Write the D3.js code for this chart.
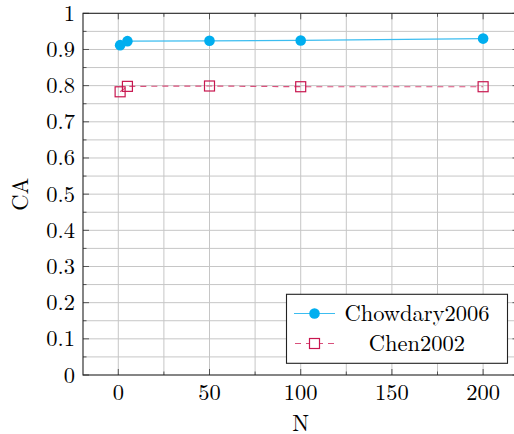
<!DOCTYPE html>
<html>
<head>
<meta charset="utf-8">
<script src="https://cdn.jsdelivr.net/npm/d3@7"></script>
<style>
  body { margin: 0; background: #fff; }
  svg text { font-family: "Latin Modern Roman", "CMU Serif", "DejaVu Serif", serif; fill: #000; }
</style>
</head>
<body>
<div id="chart"></div>
<script>
// data
var nValues = [1, 5, 50, 100, 200];
var chowdary = [0.912, 0.923, 0.924, 0.925, 0.930];
var chen = [0.783, 0.798, 0.799, 0.797, 0.797];
var xTicks = [0, 50, 100, 150, 200];
var yTicks = [0, 0.1, 0.2, 0.3, 0.4, 0.5, 0.6, 0.7, 0.8, 0.9, 1];
var seriesNames = ["Chowdary2006", "Chen2002"];

var width = 514, height = 434;
var margin = {top: 13.3, right: -4.5, bottom: 59, left: 83};
var fontSize = "22.5px";

var cyan = "#00aeef";
var cyanLine = "#3cbdf0";
var red = "#c8164f";
var redLine = "#d9507c";

var svg = d3.select("#chart").append("svg")
  .attr("width", width)
  .attr("height", height);

var x = d3.scaleLinear()
  .domain([-19.35, 219.4])
  .range([margin.left, width - margin.right]);

var y = d3.scaleLinear()
  .domain([0, 1])
  .range([height - margin.bottom, margin.top]);

var x0 = x.range()[0], x1 = x.range()[1];
var y0 = y.range()[0], y1 = y.range()[1];

// grid: minor every 25 / 0.05
var gx = d3.range(0, 201, 25);
var gy = d3.range(0, 21).map(d => d / 20);

svg.append("g").selectAll("line")
  .data(gx).enter().append("line")
  .attr("x1", d => x(d)).attr("x2", d => x(d))
  .attr("y1", y0).attr("y2", y1)
  .attr("stroke", "#c6c6c6").attr("stroke-width", 1);

svg.append("g").selectAll("line")
  .data(gy.filter(d => d > 0 && d < 1)).enter().append("line")
  .attr("x1", x0).attr("x2", x1)
  .attr("y1", d => y(d)).attr("y2", d => y(d))
  .attr("stroke", "#c6c6c6").attr("stroke-width", 1);

// tick marks inside, on all sides
var tickG = svg.append("g").attr("stroke", "#555").attr("stroke-width", 1);
gx.forEach(function(d) {
  var len = (d % 50 === 0) ? 6 : 3.5;
  tickG.append("line").attr("x1", x(d)).attr("x2", x(d)).attr("y1", y0).attr("y2", y0 - len);
  tickG.append("line").attr("x1", x(d)).attr("x2", x(d)).attr("y1", y1).attr("y2", y1 + len);
});
gy.forEach(function(d, i) {
  var len = (i % 2 === 0) ? 6 : 3.5;
  tickG.append("line").attr("x1", x0).attr("x2", x0 + len).attr("y1", y(d)).attr("y2", y(d));
  tickG.append("line").attr("x1", x1).attr("x2", x1 - len).attr("y1", y(d)).attr("y2", y(d));
});

// frame
svg.append("rect")
  .attr("x", x0).attr("y", y1)
  .attr("width", x1 - x0).attr("height", y0 - y1)
  .attr("fill", "none").attr("stroke", "#222").attr("stroke-width", 1.1);

// tick labels
svg.append("g").selectAll("text")
  .data(xTicks).enter().append("text")
  .attr("x", d => x(d)).attr("y", y0 + 24.5)
  .attr("text-anchor", "middle")
  .style("font-size", fontSize)
  .text(d => d);

svg.append("g").selectAll("text")
  .data(yTicks).enter().append("text")
  .attr("x", x0 - 8).attr("y", d => y(d) + 7.5)
  .attr("text-anchor", "end")
  .style("font-size", fontSize)
  .text(d => d3.format("~g")(d));

// axis labels
svg.append("text")
  .attr("x", x(100)).attr("y", 430.5)
  .attr("text-anchor", "middle")
  .style("font-size", fontSize)
  .text("N");

svg.append("text")
  .attr("transform", "translate(28," + y(0.5) + ") rotate(-90)")
  .attr("text-anchor", "middle")
  .style("font-size", fontSize)
  .text("CA");

// series
var line = d3.line().x(d => x(d[0])).y(d => y(d[1]));
var chowPts = nValues.map((n, i) => [n, chowdary[i]]);
var chenPts = nValues.map((n, i) => [n, chen[i]]);

svg.append("path")
  .datum(chowPts)
  .attr("d", line)
  .attr("fill", "none").attr("stroke", cyanLine).attr("stroke-width", 1.2);

svg.append("g").selectAll("circle")
  .data(chowPts).enter().append("circle")
  .attr("cx", d => x(d[0])).attr("cy", d => y(d[1]))
  .attr("r", 5.3).attr("fill", cyan);

svg.append("path")
  .datum(chenPts)
  .attr("d", line)
  .attr("fill", "none").attr("stroke", redLine).attr("stroke-width", 1.2)
  .attr("stroke-dasharray", "6,5");

svg.append("g").selectAll("rect")
  .data(chenPts).enter().append("rect")
  .attr("x", d => x(d[0]) - 5).attr("y", d => y(d[1]) - 5)
  .attr("width", 10).attr("height", 10)
  .attr("fill", "none").attr("stroke", red).attr("stroke-width", 1.2);

// legend
var lg = svg.append("g");
lg.append("rect")
  .attr("x", 286.5).attr("y", 294.3)
  .attr("width", 221).attr("height", 69)
  .attr("fill", "#fff").attr("stroke", "#222").attr("stroke-width", 1.1);

var rowY = [313.5, 343.5];
var textCx = 417;

lg.append("line")
  .attr("x1", 294).attr("x2", 335).attr("y1", rowY[0]).attr("y2", rowY[0])
  .attr("stroke", cyanLine).attr("stroke-width", 1.2);
lg.append("circle")
  .attr("cx", 314.5).attr("cy", rowY[0]).attr("r", 5.3).attr("fill", cyan);

lg.append("line")
  .attr("x1", 294).attr("x2", 335).attr("y1", rowY[1]).attr("y2", rowY[1])
  .attr("stroke", redLine).attr("stroke-width", 1.2)
  .attr("stroke-dasharray", "6,5").attr("stroke-dashoffset", -1);
lg.append("rect")
  .attr("x", 309.5).attr("y", rowY[1] - 5).attr("width", 10).attr("height", 10)
  .attr("fill", "#fff").attr("stroke", red).attr("stroke-width", 1.2);

lg.selectAll("text.leg")
  .data(seriesNames).enter().append("text")
  .attr("class", "leg")
  .attr("x", textCx).attr("y", (d, i) => rowY[i] + 7.5)
  .attr("text-anchor", "middle")
  .style("font-size", fontSize)
  .text(d => d);
</script>
</body>
</html>
